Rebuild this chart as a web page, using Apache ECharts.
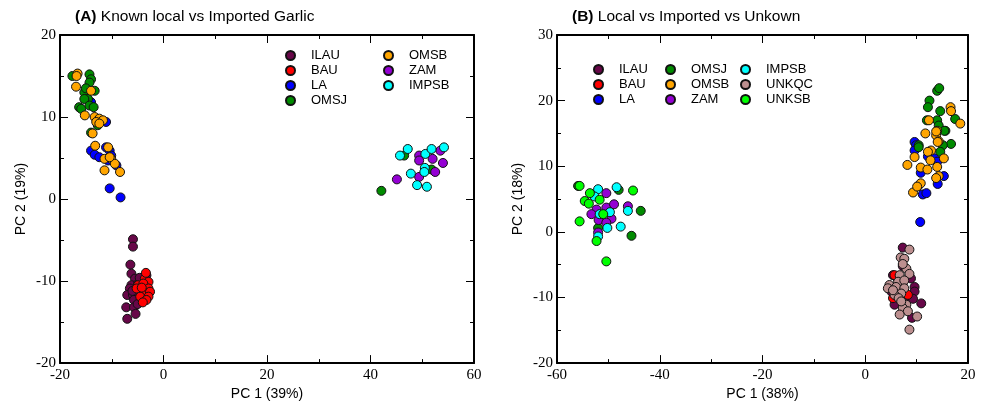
<!DOCTYPE html>
<html style="height: 100%">
   <head>
       <meta charset="utf-8">
   </head>
   <body style="height: 100%; margin: 0; background: #fff">
       <div id="container" style="width:987px;height:406px;"></div>
       <script src="https://cdn.jsdelivr.net/npm/echarts@6/dist/echarts.min.js"></script>
       <script type="text/javascript">
// panel A: known local vs imported
var ilauA = [[-5.9,-4.9],[-5.9,-5.8],[-6.4,-8.0],[-6.2,-9.1],[-5.5,-9.7],[-3.3,-9.3],[-6.2,-10.5],[-6.5,-10.9],[-7.0,-11.7],[-5.9,-11.7],[-5.7,-12.3],[-7.2,-13.2],[-5.7,-13.2],[-5.4,-14.0],[-7.0,-14.6],[-4.2,-12.3],[-4.9,-10.3],[-6.0,-11.2],[-5.0,-12.8],[-4.6,-9.6]];
var bauA = [[-3.6,-9.7],[-2.9,-10.1],[-4.9,-10.5],[-3.9,-10.3],[-2.9,-10.9],[-3.9,-11.3],[-2.6,-11.3],[-4.5,-11.9],[-2.9,-11.9],[-3.3,-12.3],[-5.2,-10.9],[-4.2,-10.8],[-3.4,-9.0],[-4.0,-12.6]];
var laA = [[-14.0,5.9],[-13.3,5.4],[-12.4,5.1],[-11.1,6.3],[-10.4,5.9],[-10.1,5.3],[-10.7,4.7],[-9.1,4.1],[-10.4,1.3],[-8.3,0.2],[-14.0,11.8],[-11.1,9.4]];
var omsjA = [[-17.6,15.0],[-14.3,15.2],[-14.0,14.6],[-14.3,14.2],[-15.3,13.0],[-13.3,13.2],[-14.6,12.2],[-15.3,12.2],[-16.3,11.2],[-15.9,11.0],[-14.3,11.4],[-13.5,11.2],[-14.0,8.1],[-12.7,9.0],[-15.0,13.5],[42.1,1.0],[46.5,5.3],[51.8,3.6]];
var omsbA = [[-16.6,15.3],[-16.9,13.7],[-14.0,13.2],[-15.2,10.2],[-13.3,10.0],[-12.4,9.8],[-11.7,9.6],[-13.0,9.4],[-12.4,9.2],[-13.7,8.0],[-13.2,6.5],[-10.7,6.3],[-11.4,4.9],[-10.1,4.9],[-9.4,4.3],[-11.4,3.5],[-8.4,3.3],[-10.4,5.1],[-16.8,15.0]];
var zamA = [[49.4,5.3],[49.4,4.7],[52.0,4.9],[53.5,5.9],[54.0,4.4],[52.5,3.3],[49.4,2.7],[45.1,2.4]];
var impsbA = [[47.2,6.1],[45.7,5.3],[50.6,5.5],[51.8,6.1],[54.2,6.3],[47.8,3.1],[50.5,3.8],[50.4,3.3],[49.0,1.7],[50.9,1.5]];

// panel B: local vs imported vs unknown
var ilauB = [[7.3,-2.4],[7.3,-5.2],[8.9,-7.1],[9.6,-8.4],[9.6,-9.1],[10.9,-10.9],[9.1,-13.1],[5.7,-11.1],[5.1,-9.1],[5.4,-6.6],[8.3,-9.9],[9.3,-10.2],[6.2,-7.0]];
var bauB = [[5.7,-6.6],[6.4,-9.4],[7.3,-7.9],[8.3,-9.6],[5.4,-10.1]];
var laB = [[9.6,13.7],[9.9,13.2],[9.6,12.4],[12.2,11.5],[13.5,11.2],[14.0,10.7],[10.8,9.0],[15.3,8.5],[14.1,7.3],[10.3,7.0],[11.2,5.7],[11.9,5.9],[10.7,1.5]];
var omsjB = [[14.0,21.5],[14.4,21.9],[12.5,20.0],[12.2,19.0],[14.6,18.4],[12.0,17.0],[14.0,17.0],[17.5,17.2],[14.3,16.2],[15.6,15.4],[16.7,13.4],[15.1,13.2],[10.4,13.2],[10.4,12.9],[14.6,12.2],[15.4,15.4],[-48.0,6.4],[-43.7,3.2],[-45.5,-0.6],[-52.0,0.6],[-55.9,7.0]];
var omsbB = [[16.6,19.0],[16.7,18.4],[18.5,16.5],[12.4,17.0],[11.7,15.0],[14.0,15.4],[13.8,14.7],[14.3,13.8],[13.8,15.3],[14.1,13.7],[12.8,12.4],[12.2,12.2],[9.6,11.4],[8.2,10.2],[10.8,9.8],[12.1,9.5],[12.7,10.9],[14.0,9.9],[14.3,8.5],[13.8,8.2],[15.3,11.2],[10.8,7.4],[9.3,6.0],[10.1,6.9]];
var zamB = [[-50.4,5.9],[-52.3,3.4],[-53.3,2.7],[-50.4,3.7],[-48.9,4.2],[-46.2,3.9],[-51.9,1.8],[-49.4,2.0],[-50.4,1.4],[-52.0,-0.1]];
var impsbB = [[-52.0,6.5],[-52.7,5.4],[-48.4,6.8],[-49.7,3.0],[-51.7,2.7],[-46.2,3.2],[-50.2,0.6],[-47.6,0.8],[-52.0,-0.7]];
var unkqcB = [[8.6,-2.7],[6.9,-3.9],[7.6,-4.1],[8.0,-5.6],[8.6,-6.4],[6.7,-6.6],[6.4,-7.6],[7.6,-7.4],[4.7,-8.1],[4.4,-8.6],[6.0,-8.4],[7.6,-8.6],[7.0,-9.4],[5.7,-9.6],[6.5,-10.1],[8.0,-11.1],[7.3,-11.6],[8.3,-12.1],[6.7,-12.6],[10.1,-12.9],[8.6,-14.9],[7.0,-10.6],[5.4,-8.9],[7.3,-4.9]];
var unksbB = [[-55.6,7.0],[-53.6,5.9],[-54.6,4.7],[-53.8,4.3],[-51.7,4.9],[-51.0,2.7],[-55.6,1.6],[-52.3,-1.4],[-50.4,-4.5],[-45.2,6.3]];

var colors = {
    ILAU: '#670748', BAU: '#ff0000', LA: '#0000ff', OMSJ: '#008b00', OMSB: '#ffa500',
    ZAM: '#9400d3', IMPSB: '#00ffff', UNKQC: '#bc8f8f', UNKSB: '#00ff00'
};

var dom = document.getElementById("container");
var myChart = echarts.init(dom);

function xAx(grid, min, max, top) {
    return {
        type: 'value', gridIndex: grid, min: min, max: max, interval: 20,
        position: top ? 'top' : 'bottom',
        name: top ? '' : (grid == 0 ? 'PC 1 (39%)' : 'PC 1 (38%)'),
        nameLocation: 'middle', nameGap: 20,
        nameTextStyle: {fontFamily: 'Liberation Sans', fontSize: 14, color: '#000'},
        axisLine: {show: true, onZero: false, lineStyle: {color: '#000', width: 2}},
        axisTick: {show: true, inside: true, length: 8, lineStyle: {color: '#000'}},
        minorTick: {show: true, splitNumber: 2, length: 4, lineStyle: {color: '#000'}},
        axisLabel: {show: !top, margin: 4, fontFamily: 'Liberation Serif', fontSize: 15, color: '#000'},
        splitLine: {show: false}
    };
}
function yAx(grid, min, max, right) {
    return {
        type: 'value', gridIndex: grid, min: min, max: max, interval: 10,
        position: right ? 'right' : 'left',
        name: right ? '' : (grid == 0 ? 'PC 2 (19%)' : 'PC 2 (18%)'),
        nameLocation: 'middle', nameGap: 32,
        nameTextStyle: {fontFamily: 'Liberation Sans', fontSize: 14, color: '#000'},
        axisLine: {show: true, onZero: false, lineStyle: {color: '#000', width: 2}},
        axisTick: {show: true, inside: true, length: 8, lineStyle: {color: '#000'}},
        minorTick: {show: true, splitNumber: 2, length: 4, lineStyle: {color: '#000'}},
        axisLabel: {show: !right, margin: 4, fontFamily: 'Liberation Serif', fontSize: 15, color: '#000'},
        splitLine: {show: false}
    };
}
function sc(name, data, idx) {
    return {
        name: name, type: 'scatter', data: data,
        xAxisIndex: idx, yAxisIndex: idx,
        symbol: 'circle', symbolSize: 9,
        itemStyle: {color: colors[name], borderColor: '#111', borderWidth: 1, opacity: 1}
    };
}
function leg(names, left, top) {
    return {
        data: names, orient: 'vertical', left: left, top: top, padding: 0,
        itemGap: 2, itemWidth: 9, itemHeight: 9, icon: 'circle',
        selectedMode: false,
        textStyle: {fontFamily: 'Liberation Sans', fontSize: 13, color: '#000', padding: [0, 0, 0, 11]}
    };
}

option = {
    animation: false,
    title: [
        {text: '{b|(A)} Known local vs Imported Garlic', left: 70, top: 4,
         textStyle: {fontFamily: 'Liberation Sans', fontSize: 15.5, fontWeight: 'normal', color: '#000',
                     rich: {b: {fontFamily: 'Liberation Sans', fontSize: 15.5, fontWeight: 'bold', color: '#000'}}}},
        {text: '{b|(B)} Local vs Imported vs Unkown', left: 567, top: 4,
         textStyle: {fontFamily: 'Liberation Sans', fontSize: 15.5, fontWeight: 'normal', color: '#000',
                     rich: {b: {fontFamily: 'Liberation Sans', fontSize: 15.5, fontWeight: 'bold', color: '#000'}}}}
    ],
    legend: [
        leg(['ILAU', 'BAU', 'LA', 'OMSJ'], 285, 49),
        leg(['OMSB', 'ZAM', 'IMPSB'], 383, 49),
        leg(['ILAU', 'BAU', 'LA'], 593, 63),
        leg(['OMSJ', 'OMSB', 'ZAM'], 665, 63),
        leg(['IMPSB', 'UNKQC', 'UNKSB'], 740, 63)
    ],
    grid: [
        {left: 60, right: 513, top: 35, bottom: 38},
        {left: 557, right: 19, top: 35, bottom: 38}
    ],
    xAxis: [xAx(0, -20, 60, false), xAx(0, -20, 60, true), xAx(1, -60, 20, false), xAx(1, -60, 20, true)],
    yAxis: [yAx(0, -20, 20, false), yAx(0, -20, 20, true), yAx(1, -20, 30, false), yAx(1, -20, 30, true)],
    series: [
        sc('ILAU', ilauA, 0), sc('BAU', bauA, 0), sc('LA', laA, 0), sc('OMSJ', omsjA, 0),
        sc('OMSB', omsbA, 0), sc('ZAM', zamA, 0), sc('IMPSB', impsbA, 0),
        sc('ILAU', ilauB, 2), sc('BAU', bauB, 2), sc('LA', laB, 2), sc('OMSJ', omsjB, 2),
        sc('OMSB', omsbB, 2), sc('ZAM', zamB, 2), sc('IMPSB', impsbB, 2),
        sc('UNKQC', unkqcB, 2), sc('UNKSB', unksbB, 2)
    ]
};
myChart.setOption(option, true);
       </script>
   </body>
</html>
